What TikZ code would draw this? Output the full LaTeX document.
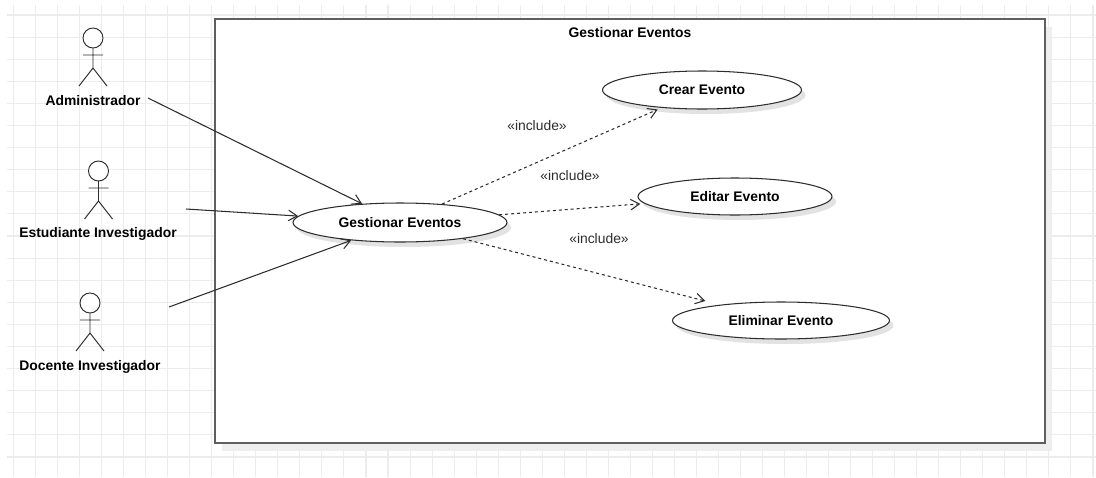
\documentclass[tikz,border=0pt]{standalone}
\usepackage{fontspec}
\setmainfont{Liberation Sans}
\usepackage{tikz}
\usetikzlibrary{arrows.meta,shapes.geometric,shadows,positioning}
\definecolor{gridgray}{RGB}{236,236,236}
\definecolor{framegray}{RGB}{95,95,95}
\definecolor{ink}{RGB}{45,45,45}
\definecolor{shadowgray}{RGB}{226,226,226}
\tikzset{%
  gridline/.style={draw=gridgray, line width=0.6pt},% background grid
  usecase/.style={draw=ink, shape=ellipse, fill=white, inner sep=0pt, line width=0.6pt,
    font=\fontsize{7.9}{9}\selectfont\bfseries,
    drop shadow={shadow xshift=0.08cm, shadow yshift=-0.1cm, fill=shadowgray, opacity=1}},% use case
  actor/.style={font=\fontsize{7.9}{9}\selectfont\bfseries, inner sep=1pt},% actor name
  stick/.style={draw=ink, line width=0.55pt},% stick figure
  assoc/.style={draw=ink, line width=0.6pt, -{Straight Barb[length=5pt,width=6pt]}},% actor to use case
  include/.style={assoc, dash pattern=on 1.7pt off 1.7pt, shorten >=0.08cm},% include relation
  stereo/.style={font=\fontsize{7.9}{9}\selectfont, text=ink},% include label
  sysbox/.style={draw=framegray, fill=white, line width=0.9pt, minimum width=16.6cm, minimum height=8.48cm,
    drop shadow={shadow xshift=0.14cm, shadow yshift=-0.16cm, fill=shadowgray!60, opacity=1}}% system boundary
}
\newcommand*{\stickman}[1]{%
  \begin{scope}[shift={(#1)}]
    \draw[stick, fill=white] (0,0) circle (10);
    \draw[stick] (0,10) -- (0,30) (-10,17) -- (10,17) (-14,48) -- (0,30) -- (14,48);
  \end{scope}}

\begin{document}
\begin{tikzpicture}[x=0.02cm, y=-0.02cm]
\useasboundingbox (0,0) rectangle (1096,477);

\foreach \gx in {0,...,49} \draw[gridline] ({13.5+22.03*\gx},5) -- ({13.5+22.03*\gx},477);
\foreach \gy in {0,...,20} \draw[gridline] (7,{15+22.1*\gy}) -- (1096,{15+22.1*\gy});

\node[sysbox] (sys) at (630,231) {};
\node[actor] (title) at (630,33) {Gestionar Eventos};

% actors
\stickman{93,38}
\stickman{98.5,171}
\stickman{90,303}
\node[actor] (adm) at (93,101) {Administrador};
\node[actor] (est) at (98,234) {Estudiante Investigador};
\node[actor] (doc) at (90,366.5) {Docente Investigador};
\coordinate (adm-o) at (148,98);
\coordinate (est-o) at (186,209);
\coordinate (doc-o) at (169,307);

% use cases
\node[usecase, minimum width=4.28cm, minimum height=0.78cm] (gest) at (400,222.5) {Gestionar Eventos};
\node[usecase, minimum width=3.98cm, minimum height=0.76cm] (crear) at (702,90) {Crear Evento};
\node[usecase, minimum width=3.88cm, minimum height=0.74cm] (editar) at (735,196.5) {Editar Evento};
\node[usecase, minimum width=4.34cm, minimum height=0.74cm] (elim) at (781,320.5) {Eliminar Evento};

\draw[assoc] (adm-o) -- (gest);
\draw[assoc] (est-o) -- (gest);
\draw[assoc] (doc-o) -- (gest);

\draw[include] (gest) -- (crear);
\draw[include] (gest) -- (editar);
\draw[include, shorten >=0.3cm] (gest) -- (elim);
\node[stereo] (inc1) at (537,126) {«include»};
\node[stereo] (inc2) at (570,176) {«include»};
\node[stereo] (inc3) at (599,239) {«include»};

\end{tikzpicture}
\end{document}
